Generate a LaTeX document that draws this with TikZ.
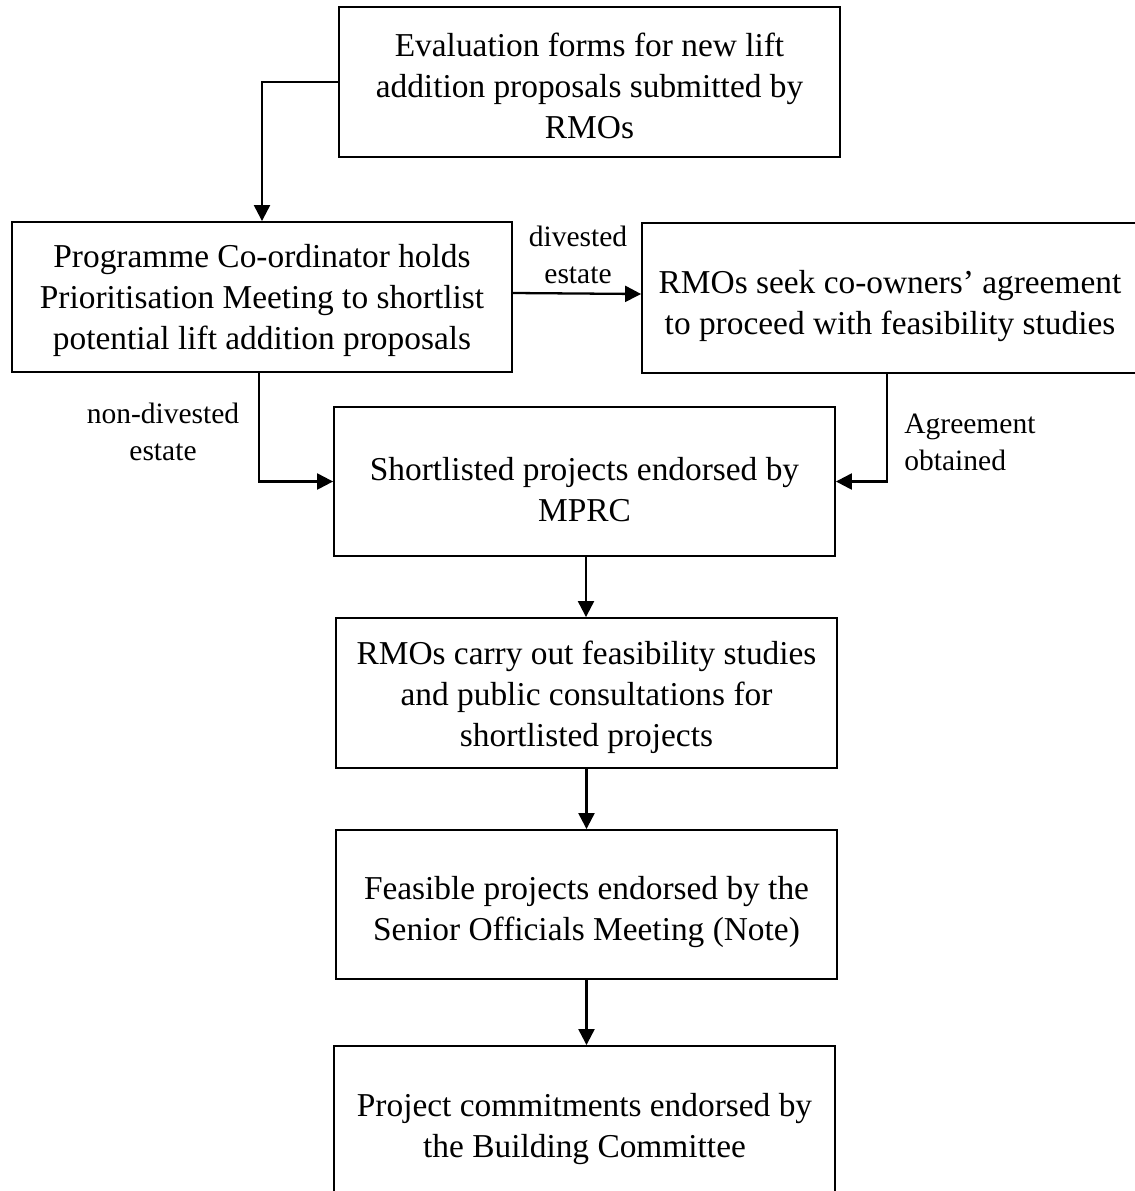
\documentclass[tikz,border=0pt]{standalone}
\usepackage{fontspec}
\setmainfont{Liberation Serif}
\usetikzlibrary{arrows.meta}

\newcommand{\boxfont}{\fontsize{19}{23.3}\selectfont}
\newcommand{\labfont}{\fontsize{16.8}{21}\selectfont}
\newcommand{\topgap}[1]{\rule{0pt}{#1}}

\begin{document}
\begin{tikzpicture}[x=0.02cm, y=-0.02cm,
	stagebox/.style={draw, line width=1.1pt, minimum width=10.02cm, minimum height=3cm, align=center, inner sep=0pt, font=\boxfont},
	flow/.style={line width=1.3pt, -{Triangle[length=0.32cm, width=0.32cm]}},
	lab/.style={font=\labfont, align=center, inner sep=0pt}]
	\useasboundingbox (0, 0) rectangle (1135, 1191);
	\node [stagebox] (EV) at (589.5, 82) {\topgap{18pt}Evaluation forms for new lift\\addition proposals submitted by\\RMOs};
	\node [stagebox, minimum width=10cm] (PC) at (262, 297) {\topgap{17pt}Programme Co-ordinator holds\\Prioritisation Meeting to shortlist\\potential lift addition proposals};
	\node [stagebox, minimum width=9.92cm] (RS) at (890, 298) {\topgap{22pt}RMOs seek co-owners’ agreement\\to proceed with feasibility studies};
	\node [stagebox, minimum height=2.98cm] (SL) at (584.5, 481.5) {\topgap{22pt}Shortlisted projects endorsed by\\MPRC};
	\node [stagebox] (FS) at (586.5, 693) {\topgap{18pt}RMOs carry out feasibility studies\\and public consultations for\\shortlisted projects};
	\node [stagebox, minimum height=2.98cm] (FP) at (586.5, 904.5) {\topgap{22pt}Feasible projects endorsed by the\\Senior Officials Meeting (Note)};
	\node [stagebox] (PB) at (584.5, 1121) {\topgap{22pt}Project commitments endorsed by\\the Building Committee};
	\node [lab] (DV) at (578, 255) {divested\\estate};
	\node [lab] (ND) at (163, 432) {non-divested\\estate};
	\node [lab, align=left, anchor=west] (AO) at (904, 442) {Agreement\\obtained};
	\draw [flow] (EV.west) -| (PC.north);
	\draw [flow] ([yshift=0.08cm]PC.east) -- ([yshift=0.08cm]RS.west);
	\draw [flow] ([xshift=-0.06cm]PC.south) |- (SL.west);
	\draw [flow] ([xshift=-0.06cm]RS.south) |- (SL.east);
	\draw [flow] ([xshift=0.03cm]SL.south) -- ([xshift=0.03cm]SL.south |- FS.north);
	\draw [flow] (FS.south) -- (FP.north);
	\draw [flow] (FP.south) -- (FP.south |- PB.north);
\end{tikzpicture}
\end{document}
